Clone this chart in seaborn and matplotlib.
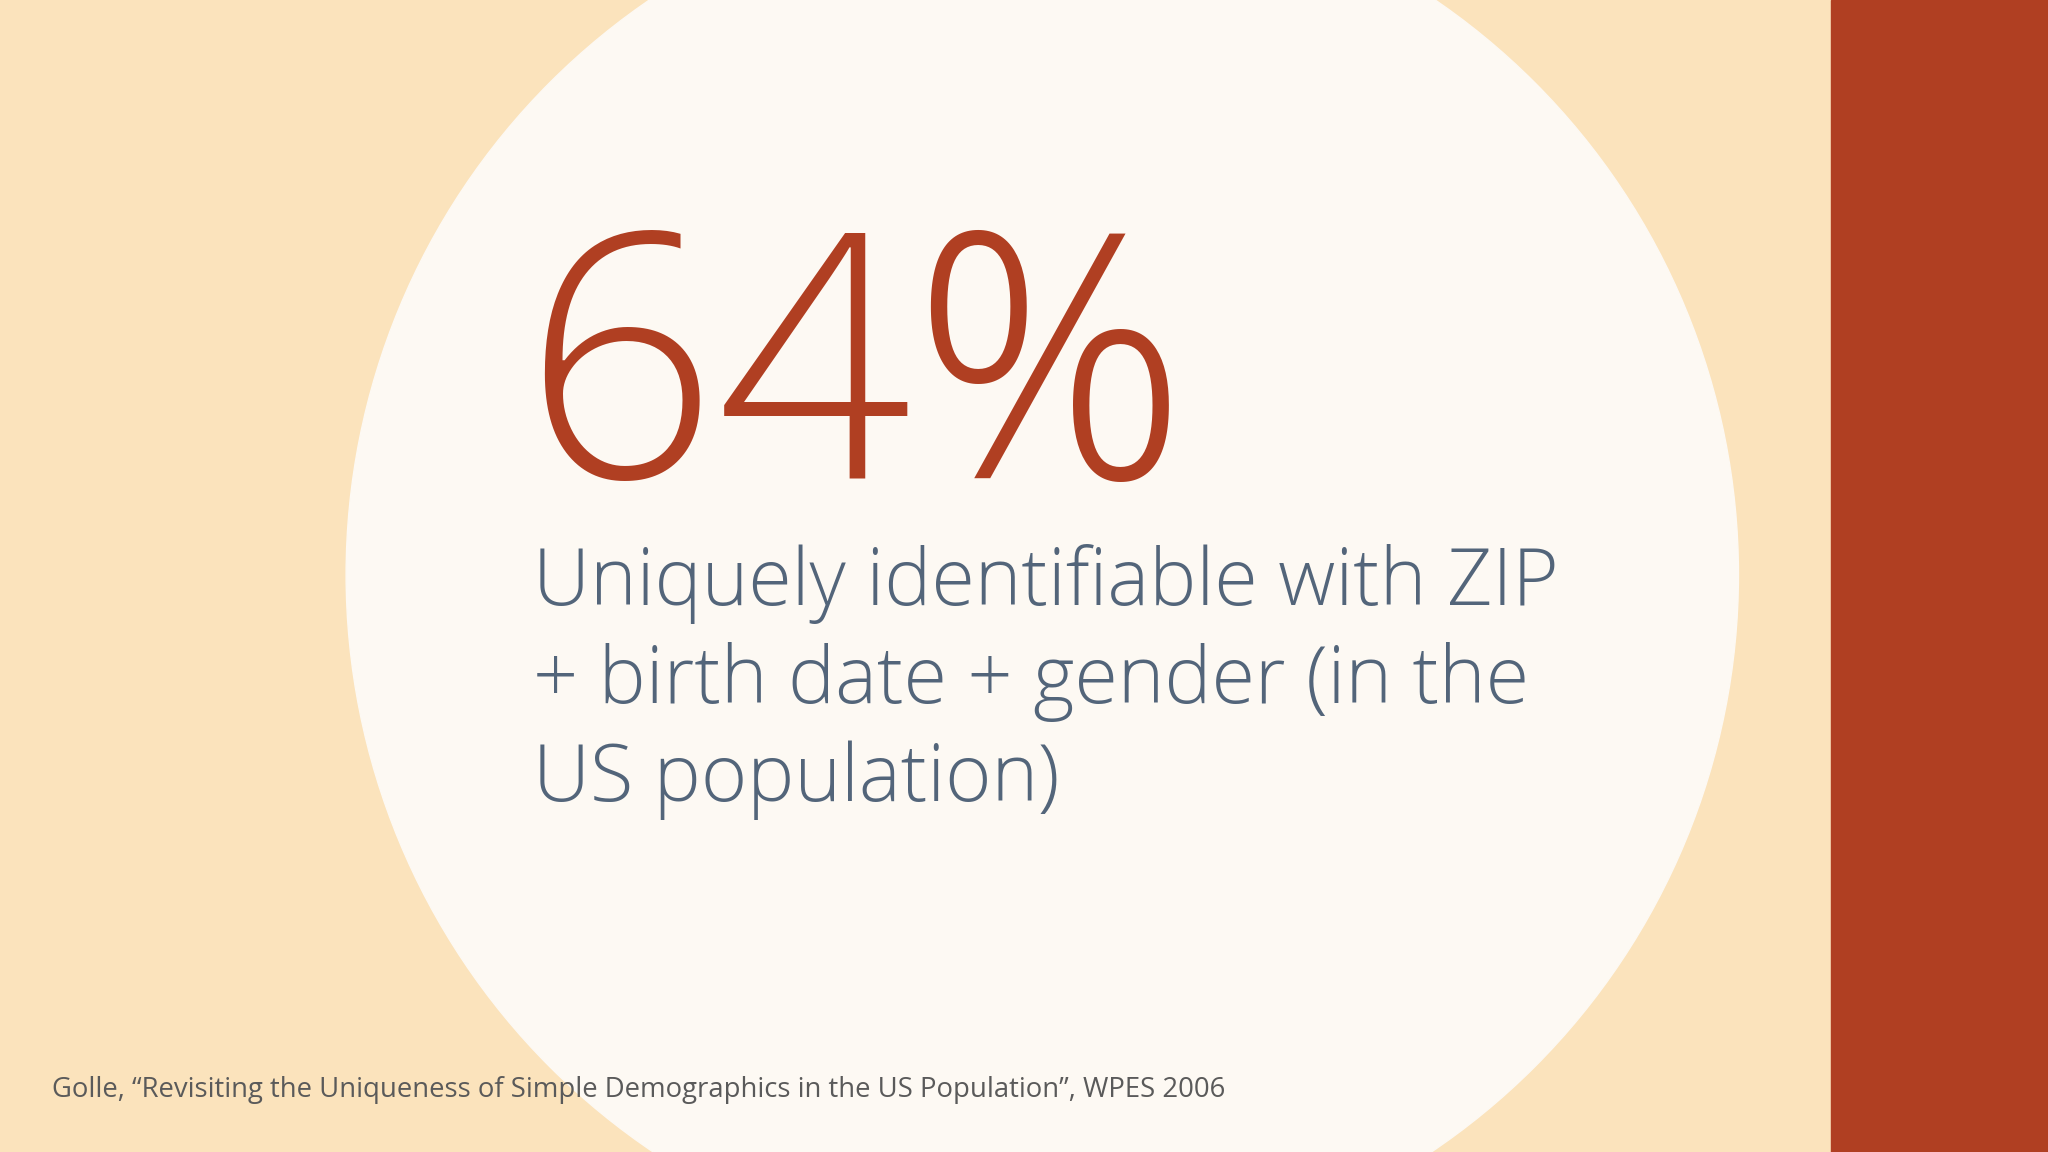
import matplotlib
matplotlib.use("Agg")
import matplotlib.pyplot as plt
import matplotlib.patches as mpatches
import seaborn as sns

# slide content
stat_value = 64
stat_caption = ["Uniquely identifiable with ZIP",
                "+ birth date + gender (in the",
                "US population)"]
source_note = "Golle, \u201cRevisiting the Uniqueness of Simple Demographics in the US Population\u201d, WPES 2006"

BG = "#FBE3BC"
CIRCLE = "#FDF9F3"
ACCENT = "#B03F22"
SLATE = "#53657A"

sns.set_theme(style="white")
plt.rcParams["font.family"] = ["Open Sans", "DejaVu Sans"]

W, H = 1568, 882
fig = plt.figure(figsize=(20.48, 11.52), dpi=100)
fig.patch.set_facecolor(BG)
ax = fig.add_axes([0, 0, 1, 1])
ax.set_xlim(0, W)
ax.set_ylim(H, 0)
ax.set_facecolor(BG)
ax.axis("off")

ax.add_patch(mpatches.Circle((798, 440), 533, color=CIRCLE, zorder=1))
ax.add_patch(mpatches.Rectangle((1402, 0), W - 1402, H, color=ACCENT, zorder=2))

ax.text(400, 366, f"{stat_value}%", color=ACCENT, fontsize=246,
        fontweight="light", va="baseline", ha="left", zorder=3)

for i, line in enumerate(stat_caption):
    ax.text(408, 463 + i * 75, line, color=SLATE, fontsize=57,
            fontweight="light", va="baseline", ha="left", zorder=3)

ax.text(40, 840, source_note, color="#5A5A5A", fontsize=19.8,
        va="baseline", ha="left", zorder=3)

fig.savefig("out.png", dpi=100, facecolor=BG)
